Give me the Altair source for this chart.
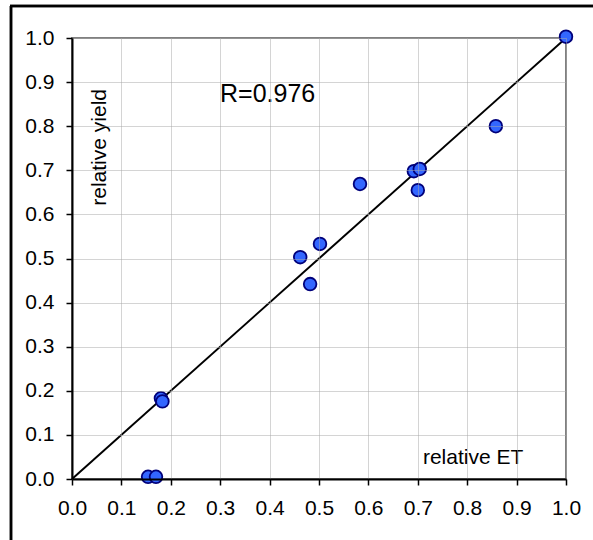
import altair as alt
import pandas as pd

# data
rel_et = [1.0, 0.858, 0.692, 0.704, 0.700, 0.583, 0.502, 0.462, 0.482, 0.180, 0.183, 0.154, 0.170]
rel_yield = [1.003, 0.800, 0.698, 0.703, 0.655, 0.669, 0.533, 0.503, 0.442, 0.183, 0.176, 0.005, 0.005]
line_x = [0.0, 1.0]
line_y = [0.0, 1.0]
ticks = [round(i * 0.1, 1) for i in range(11)]

pts = pd.DataFrame({"x": rel_et, "y": rel_yield})
ln = pd.DataFrame({"x": line_x, "y": line_y})

FONT = "Liberation Sans"

xs = alt.Scale(domain=[0, 1], nice=False, zero=False)
ys = alt.Scale(domain=[0, 1], nice=False, zero=False)

xaxis = alt.Axis(values=ticks, format=".1f", title=None, grid=True,
                 gridColor="#a8a8a8", gridDash=[1, 1], gridWidth=1,
                 domainColor="black", domainWidth=2, tickColor="black",
                 tickWidth=1.5, tickSize=6, labelFont=FONT, labelFontSize=21,
                 labelColor="black", labelPadding=12, labelFlush=False, zindex=1)
yaxis = alt.Axis(values=ticks, format=".1f", title=None, grid=True,
                 gridColor="#a8a8a8", gridDash=[1, 1], gridWidth=1,
                 domainColor="black", domainWidth=2, tickColor="black",
                 tickWidth=1.5, tickSize=6, labelFont=FONT, labelFontSize=21,
                 labelColor="black", labelPadding=12, labelFlush=False, zindex=1)

line = alt.Chart(ln).mark_line(color="black", strokeWidth=2, clip=False).encode(
    x=alt.X("x:Q", scale=xs, axis=xaxis),
    y=alt.Y("y:Q", scale=ys, axis=yaxis),
)

points = alt.Chart(pts).mark_point(
    shape="circle", filled=True, size=160, fill="#3366ff", stroke="#00007a",
    strokeWidth=1.8, opacity=1
).encode(x=alt.X("x:Q", scale=xs), y=alt.Y("y:Q", scale=ys))

ann = pd.DataFrame({
    "x": [0.2996, 0.812],
    "y": [0.855, 0.034],
    "t": ["R=0.976", "relative ET"],
})

r_text = alt.Chart(ann.iloc[[0]]).mark_text(
    font=FONT, fontSize=25, align="left", baseline="alphabetic", color="black"
).encode(x=alt.X("x:Q", scale=xs), y=alt.Y("y:Q", scale=ys), text="t:N")

et_text = alt.Chart(ann.iloc[[1]]).mark_text(
    font=FONT, fontSize=21, align="center", baseline="alphabetic", color="black"
).encode(x=alt.X("x:Q", scale=xs), y=alt.Y("y:Q", scale=ys), text="t:N")

ylab = pd.DataFrame({"x": [0.057], "y": [0.752], "t": ["relative yield"]})
y_text = alt.Chart(ylab).mark_text(
    font=FONT, fontSize=21, align="center", baseline="middle", angle=270, color="black"
).encode(x=alt.X("x:Q", scale=xs), y=alt.Y("y:Q", scale=ys), text="t:N")

frame_left = alt.Chart(ln).mark_rule(color="black", strokeWidth=2.5).encode(
    x=alt.value(-61), y=alt.value(-32), y2=alt.value(505))
frame_top = alt.Chart(ln).mark_rule(color="black", strokeWidth=2.5).encode(
    y=alt.value(-32), x=alt.value(-62), x2=alt.value(525))

chart = alt.layer(line, points, r_text, et_text, y_text, frame_left, frame_top).properties(
    width=494, height=441,
    padding={"left": 72, "top": 38, "right": 27, "bottom": 61},
    autosize=alt.AutoSizeParams(type="none"),
    background="white",
).configure_view(stroke="#808080", strokeWidth=2)

chart.save("out.html", embed_options={"renderer": "svg", "actions": False})
